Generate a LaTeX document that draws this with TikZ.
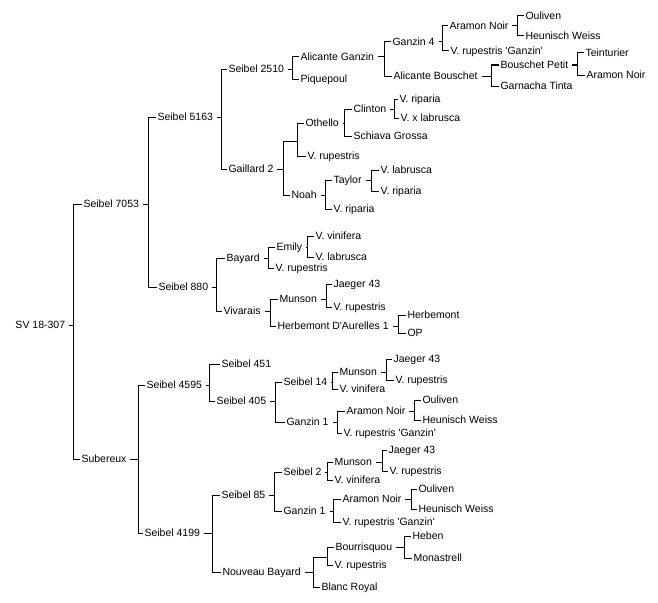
\documentclass[tikz,border=0pt]{standalone}
\usepackage{fontspec}
\setmainfont{Liberation Sans}

\begin{document}
\begin{tikzpicture}[x=1pt,y=-1pt,line width=1pt,
    vine/.style={anchor=west, inner xsep=1pt, inner ysep=0pt, xshift=-1pt,
        text height=7.4pt, text depth=0pt, font=\fontsize{10.5}{12}\selectfont,
        execute at end node={\hspace{2.5pt}}}]
                \useasboundingbox (0,0) rectangle (658,602);

                % Seedling and its parents
                \node[vine] (root) at (15,325) {SV 18-307};
                \node[vine] (s7053) at (83,204) {Seibel 7053};
                \node[vine] (sub) at (81,459) {Subereux};

                % Grandparents
                \node[vine] (s5163) at (157,117) {Seibel 5163};
                \node[vine] (s880) at (158,287) {Seibel 880};
                \node[vine] (s4595) at (146,385) {Seibel 4595};
                \node[vine] (s4199) at (144,533) {Seibel 4199};

                % Third generation
                \node[vine] (s2510) at (228,69) {Seibel 2510};
                \node[vine] (gai2) at (228,169) {Gaillard 2};
                \node[vine] (bay) at (226,258) {Bayard};
                \node[vine] (viv) at (223,311) {Vivarais};
                \node[vine] (s451) at (221,364) {Seibel 451};
                \node[vine] (s405) at (216,401) {Seibel 405};
                \node[vine] (s85) at (221,495) {Seibel 85};
                \node[vine] (nbay) at (222,572) {Nouveau Bayard};

                % Fourth generation
                \node[vine] (aga) at (300,57) {Alicante Ganzin};
                \node[vine] (piq) at (300,79) {Piquepoul};
                \coordinate (gx) at (297,141);
                \node[vine] (noah) at (291,195) {Noah};
                \node[vine] (emi) at (276,247) {Emily};
                \node[vine] (rup2) at (275,268) {V. rupestris};
                \node[vine] (mun1) at (279,299) {Munson};
                \node[vine] (hda) at (277,326) {Herbemont D\textquotesingle Aurelles 1};
                \node[vine] (s14) at (283,382) {Seibel 14};
                \node[vine] (gz1a) at (286,422) {Ganzin 1};
                \node[vine] (s2) at (283,472) {Seibel 2};
                \node[vine] (gz1b) at (283,511) {Ganzin 1};
                \coordinate (nx) at (327,557);
                \node[vine] (bla) at (321,587) {Blanc Royal};

                % Fifth generation
                \node[vine] (gz4) at (392,42) {Ganzin 4};
                \node[vine] (abo) at (393,76) {Alicante Bouschet};
                \node[vine] (oth) at (305,123) {Othello};
                \node[vine] (rup1) at (307,156) {V. rupestris};
                \node[vine] (tay) at (333,180) {Taylor};
                \node[vine] (rip1) at (333,209) {V. riparia};
                \node[vine] (vin1) at (315,236) {V. vinifera};
                \node[vine] (lab1) at (315,257) {V. labrusca};
                \node[vine] (jae1) at (333,284) {Jaeger 43};
                \node[vine] (rup3) at (333,307) {V. rupestris};
                \node[vine] (her) at (407,315) {Herbemont};
                \node[vine] (op) at (407,333) {OP};
                \node[vine] (mun2) at (339,372) {Munson};
                \node[vine] (vin2) at (339,389) {V. vinifera};
                \node[vine] (ara2) at (346,411) {Aramon Noir};
                \node[vine] (rg2) at (343,433) {V. rupestris \textquotesingle Ganzin\textquotesingle};
                \node[vine] (mun3) at (334,462) {Munson};
                \node[vine] (vin3) at (334,480) {V. vinifera};
                \node[vine] (ara3) at (342,499) {Aramon Noir};
                \node[vine] (rg3) at (342,522) {V. rupestris \textquotesingle Ganzin\textquotesingle};
                \node[vine] (bou) at (335,547) {Bourrisquou};
                \node[vine] (rup6) at (334,565) {V. rupestris};

                % Sixth generation
                \node[vine] (ara1) at (449,26) {Aramon Noir};
                \node[vine] (rg1) at (450,51) {V. rupestris \textquotesingle Ganzin\textquotesingle};
                \node[vine] (bpe) at (500,65) {Bouschet Petit};
                \node[vine] (gar) at (500,86) {Garnacha Tinta};
                \node[vine] (cli) at (353,109) {Clinton};
                \node[vine] (sch) at (353,136) {Schiava Grossa};
                \node[vine] (lab2) at (380,170) {V. labrusca};
                \node[vine] (rip3) at (380,191) {V. riparia};
                \node[vine] (jae2) at (393,359) {Jaeger 43};
                \node[vine] (rup4) at (395,380) {V. rupestris};
                \node[vine] (oul2) at (422,400) {Ouliven};
                \node[vine] (heu2) at (422,420) {Heunisch Weiss};
                \node[vine] (jae3) at (388,450) {Jaeger 43};
                \node[vine] (rup5) at (389,471) {V. rupestris};
                \node[vine] (oul3) at (418,489) {Ouliven};
                \node[vine] (heu3) at (418,509) {Heunisch Weiss};
                \node[vine] (heb) at (412,536) {Heben};
                \node[vine] (mon) at (413,558) {Monastrell};

                % Seventh generation
                \node[vine] (oul1) at (525,16) {Ouliven};
                \node[vine] (heu1) at (525,36) {Heunisch Weiss};
                \node[vine] (tei) at (585,53) {Teinturier};
                \node[vine] (ara4) at (586,75) {Aramon Noir};
                \node[vine] (rip2) at (399,99) {V. riparia};
                \node[vine] (xlab) at (400,118) {V. x labrusca};

                % Brackets: child / mother / father / x of the bar
                \foreach \p/\a/\b/\v in {root/s7053/sub/73, s7053/s5163/s880/148,
                        sub/s4595/s4199/138, s5163/s2510/gai2/221, s880/bay/viv/216,
                        s4595/s451/s405/209, s4199/s85/nbay/212, s2510/aga/piq/292,
                        gai2/gx/noah/283, bay/emi/rup2/268, viv/mun1/hda/270,
                        s405/s14/gz1a/275, s85/s2/gz1b/274, nbay/nx/bla/313,
                        aga/gz4/abo/384, gx/oth/rup1/297, noah/tay/rip1/325,
                        emi/vin1/lab1/307, mun1/jae1/rup3/326, hda/her/op/398,
                        s14/mun2/vin2/332, gz1a/ara2/rg2/337, s2/mun3/vin3/327,
                        gz1b/ara3/rg3/333, nx/bou/rup6/327, gz4/ara1/rg1/442,
                        abo/bpe/gar/491, oth/cli/sch/344, tay/lab2/rip3/371,
                        mun2/jae2/rup4/386, ara2/oul2/heu2/414, mun3/jae3/rup5/382,
                        ara3/oul3/heu3/411, bou/heb/mon/404, ara1/oul1/heu1/517,
                        bpe/tei/ara4/577, cli/rip2/xlab/394}
                    \draw (\p) -- (\p -| {\v,0}) (\a) -- (\a -| {\v,0}) |- (\b);
            \end{tikzpicture}
\end{document}
